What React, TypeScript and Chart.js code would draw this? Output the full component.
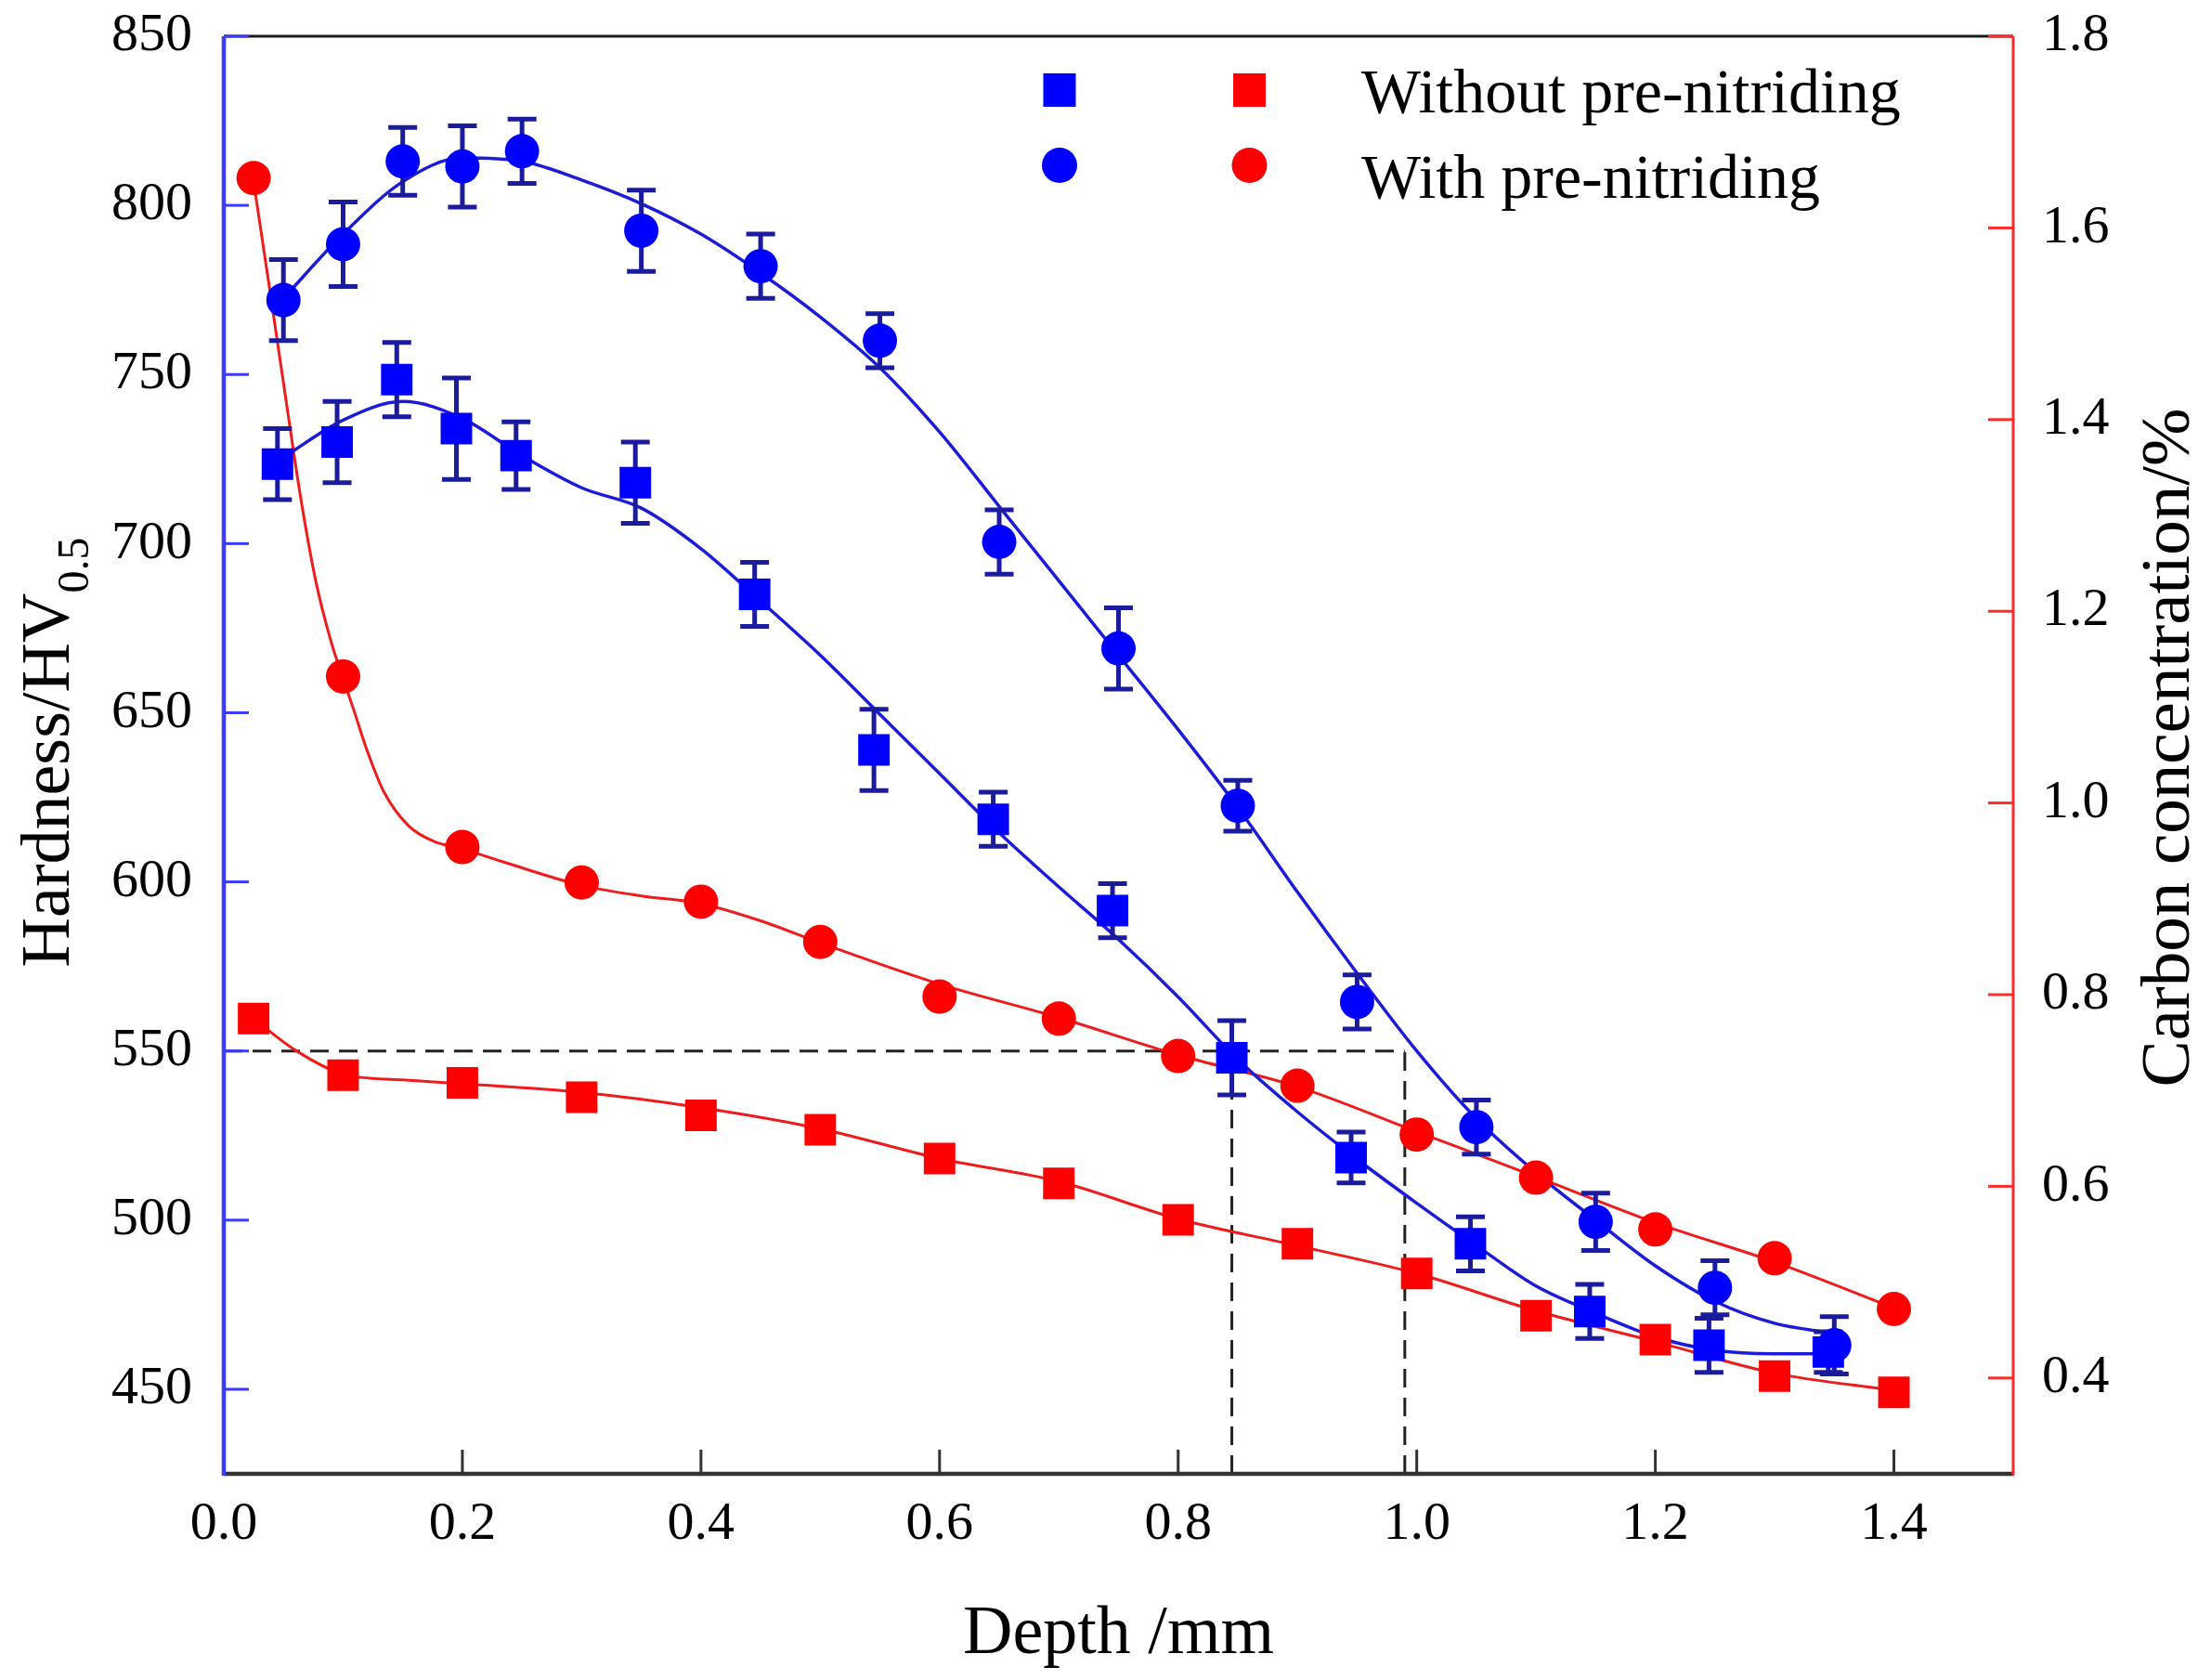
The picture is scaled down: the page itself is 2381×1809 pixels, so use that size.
import { useEffect, useRef } from 'react';
import { Chart, registerables } from 'chart.js';
import type { ChartConfiguration, Plugin } from 'chart.js';

Chart.register(...registerables);

const WIDTH = 2381;
const HEIGHT = 1809;
const SERIF = '"Liberation Serif", "Times New Roman", serif';

const BLUE = '#0000ff';
const BLUE_LINE = '#1c1cd8';
const BLUE_ERR = '#1b1b9e';
const RED = '#ff0000';
const RED_LINE = '#ee1c1c';

// Hardness HV0.5 (left axis), measured points with error bars
const depthHvWithout = [0.045, 0.095, 0.145, 0.195, 0.245, 0.345, 0.445, 0.545, 0.645, 0.745, 0.845, 0.945, 1.045, 1.145, 1.245, 1.345];
const hvWithout = [723.5, 730, 748.5, 734, 726, 718, 685, 639, 618.5, 591.5, 548, 518.5, 493, 473, 463, 461];
const hvWithoutErr = [10.5, 12, 11, 15, 10, 12, 9.5, 12, 8, 8, 11, 7.5, 8, 8, 8, 6];

const depthHvWith = [0.05, 0.1, 0.15, 0.2, 0.25, 0.35, 0.45, 0.55, 0.65, 0.75, 0.85, 0.95, 1.05, 1.15, 1.25, 1.35];
const hvWith = [772, 788.5, 813, 811.5, 816, 792.5, 782, 760, 700.5, 669, 622.5, 564.5, 527.5, 499.5, 480, 463];
const hvWithErr = [12, 12.5, 10, 12, 9.5, 12, 9.5, 8, 9.5, 12, 7.5, 8, 8, 8.5, 8, 8.5];

// Carbon concentration % (right axis)
const depthCarbon = [0.025, 0.1, 0.2, 0.3, 0.4, 0.5, 0.6, 0.7, 0.8, 0.9, 1.0, 1.1, 1.2, 1.3, 1.4];
const carbonWithout = [0.775, 0.716, 0.708, 0.693, 0.674, 0.659, 0.629, 0.603, 0.565, 0.54, 0.509, 0.465, 0.44, 0.402, 0.385];
const carbonWith = [1.652, 1.132, 0.954, 0.917, 0.897, 0.855, 0.798, 0.775, 0.736, 0.705, 0.654, 0.609, 0.555, 0.525, 0.472];

// Fitted curves
const fitHvDepth = [0.05, 0.1, 0.15, 0.2, 0.25, 0.3, 0.35, 0.4, 0.45, 0.5, 0.55, 0.6, 0.65, 0.7, 0.75, 0.8, 0.85, 0.9, 0.95, 1.0, 1.05, 1.1, 1.15, 1.2, 1.25, 1.3, 1.35];
const fitHvWithout = [725.5, 736.5, 742, 737, 726, 716.5, 710.5, 698.5, 683, 667, 649.5, 632, 614.5, 598.5, 583, 566, 547.5, 532, 518, 505, 492.5, 480.5, 472.5, 465.5, 461.5, 460.5, 460.5];
const fitHvWith = [772.5, 791.5, 807, 814, 813, 807.5, 800.5, 791.5, 780, 767, 752, 733, 711, 689, 667, 645, 622, 597, 573, 550, 530, 514, 500, 486.5, 476, 469.5, 466.5];

const fitCarbonWithoutDepth = [0.025, 0.06, 0.1, 0.15, 0.2, 0.3, 0.4, 0.5, 0.6, 0.7, 0.8, 0.9, 1.0, 1.1, 1.2, 1.3, 1.4];
const fitCarbonWithout = [0.775, 0.742, 0.717, 0.711, 0.707, 0.698, 0.682, 0.66, 0.629, 0.605, 0.566, 0.538, 0.509, 0.47, 0.438, 0.405, 0.387];
const fitCarbonWithDepth = [0.025, 0.038, 0.051, 0.064, 0.077, 0.09, 0.1, 0.11, 0.12, 0.134, 0.155, 0.176, 0.2, 0.233, 0.3, 0.35, 0.4, 0.45, 0.5, 0.6, 0.7, 0.8, 0.9, 1.0, 1.1, 1.2, 1.3, 1.4];
const fitCarbonWith = [1.648, 1.54, 1.43, 1.322, 1.232, 1.168, 1.13, 1.093, 1.055, 1.012, 0.976, 0.96, 0.952, 0.939, 0.914, 0.903, 0.895, 0.877, 0.854, 0.811, 0.776, 0.737, 0.704, 0.657, 0.61, 0.562, 0.521, 0.473];

// 550 HV case-depth guide lines
const refHardness = 550;
const refDepths = [0.845, 0.99];

const legendRows = ['Without pre-nitriding', 'With pre-nitriding'];

const toPoints = (xs: number[], ys: number[]) => xs.map((x, i) => ({ x, y: ys[i] }));

const guideLines: Plugin<'scatter'> = {
  id: 'guideLines',
  beforeDatasetsDraw(chart) {
    const { ctx, chartArea } = chart;
    const x = chart.scales.x;
    const y = chart.scales.y;
    const yRef = y.getPixelForValue(refHardness);
    ctx.save();
    ctx.strokeStyle = '#222';
    ctx.lineWidth = 3;
    ctx.setLineDash([20, 11]);
    ctx.beginPath();
    ctx.moveTo(x.getPixelForValue(0), yRef);
    ctx.lineTo(x.getPixelForValue(refDepths[refDepths.length - 1]), yRef);
    refDepths.forEach((d) => {
      const px = x.getPixelForValue(d);
      ctx.moveTo(px, chartArea.bottom);
      ctx.lineTo(px, yRef);
    });
    ctx.stroke();
    ctx.restore();
  },
};

const errorBars: Plugin<'scatter'> = {
  id: 'errorBars',
  beforeDatasetDraw(chart, args) {
    // markers are datasets 0..3, drawn from 3 down to 0; put the bars just under them
    if (args.index !== 3) return;
    const { ctx } = chart;
    const x = chart.scales.x;
    const y = chart.scales.y;
    const cap = 15.5;
    ctx.save();
    ctx.strokeStyle = BLUE_ERR;
    ctx.lineWidth = 5;
    const series: [number[], number[], number[]][] = [
      [depthHvWithout, hvWithout, hvWithoutErr],
      [depthHvWith, hvWith, hvWithErr],
    ];
    series.forEach(([xs, ys, es]) => {
      xs.forEach((d, i) => {
        const px = x.getPixelForValue(d);
        const top = y.getPixelForValue(ys[i] + es[i]);
        const bot = y.getPixelForValue(ys[i] - es[i]);
        ctx.beginPath();
        ctx.moveTo(px, top);
        ctx.lineTo(px, bot);
        ctx.moveTo(px - cap, top);
        ctx.lineTo(px + cap, top);
        ctx.moveTo(px - cap, bot);
        ctx.lineTo(px + cap, bot);
        ctx.stroke();
      });
    });
    ctx.restore();
  },
};

const frame: Plugin<'scatter'> = {
  id: 'frame',
  afterDraw(chart) {
    const { ctx, chartArea: a } = chart;
    const { x, y, y1 } = chart.scales;
    const seg = (x0: number, y0: number, x2: number, y2: number) => {
      ctx.beginPath();
      ctx.moveTo(x0, y0);
      ctx.lineTo(x2, y2);
      ctx.stroke();
    };
    ctx.save();
    ctx.strokeStyle = '#1a1a1a';
    ctx.lineWidth = 3;
    seg(a.left, a.top, a.right, a.top);

    ctx.strokeStyle = '#333';
    ctx.lineWidth = 4.5;
    seg(a.left, a.bottom, a.right, a.bottom);
    ctx.lineWidth = 3;
    x.ticks.forEach((t) => {
      const px = x.getPixelForValue(t.value);
      if (px - a.left < 3) return;
      seg(px, a.bottom, px, a.bottom - 26);
    });

    ctx.strokeStyle = '#3b3bff';
    ctx.lineWidth = 4.5;
    seg(a.left, a.top, a.left, a.bottom + 2);
    ctx.lineWidth = 3;
    y.ticks.forEach((t) => {
      const py = y.getPixelForValue(t.value);
      seg(a.left, py, a.left + 27, py);
    });

    ctx.strokeStyle = '#ff2a2a';
    ctx.lineWidth = 3;
    seg(a.right, a.top, a.right, a.bottom + 2);
    y1.ticks.forEach((t) => {
      const py = y1.getPixelForValue(t.value);
      seg(a.right, py, a.right - 27, py);
    });
    ctx.restore();
  },
};

const labels: Plugin<'scatter'> = {
  id: 'labels',
  afterDraw(chart) {
    const { ctx, chartArea: a } = chart;
    const midX = (a.left + a.right) / 2;
    const midY = (a.top + a.bottom) / 2;
    ctx.save();
    ctx.fillStyle = '#000';
    ctx.textBaseline = 'alphabetic';

    // x title
    ctx.font = `74px ${SERIF}`;
    ctx.textAlign = 'center';
    ctx.fillText('Depth /mm', midX, a.bottom + 193);

    // left title with subscript
    ctx.save();
    ctx.translate(a.left - 167, midY - 3);
    ctx.rotate(-Math.PI / 2);
    ctx.textAlign = 'left';
    ctx.font = `74px ${SERIF}`;
    const main = 'Hardness/HV';
    const mw = ctx.measureText(main).width;
    ctx.font = `48px ${SERIF}`;
    const sub = '0.5';
    const sw = ctx.measureText(sub).width;
    const start = -(mw + sw) / 2;
    ctx.font = `74px ${SERIF}`;
    ctx.fillText(main, start, 0);
    ctx.font = `48px ${SERIF}`;
    ctx.fillText(sub, start + mw, 21);
    ctx.restore();

    // right title
    ctx.save();
    ctx.translate(a.right + 189, midY - 8);
    ctx.rotate(-Math.PI / 2);
    ctx.textAlign = 'center';
    ctx.font = `75px ${SERIF}`;
    ctx.fillText('Carbon concentration/%', 0, 0);
    ctx.restore();

    // legend
    const rowY = [97, 178];
    const colX = [1141, 1345.5];
    const colors = [BLUE, RED];
    rowY.forEach((ry, r) => {
      colX.forEach((cx, c) => {
        ctx.fillStyle = colors[c];
        if (r === 0) {
          ctx.fillRect(cx - 17.5, ry - 18, 35, 36);
        } else {
          ctx.beginPath();
          ctx.arc(cx, ry, 19, 0, Math.PI * 2);
          ctx.fill();
        }
      });
      ctx.fillStyle = '#000';
      ctx.textAlign = 'left';
      ctx.font = `68px ${SERIF}`;
      ctx.fillText(legendRows[r], 1466, ry + 24 + r * 11);
    });
    ctx.restore();
  },
};

const tickFont = { family: SERIF, size: 58 };

const config: ChartConfiguration<'scatter'> = {
  type: 'scatter',
  data: {
    datasets: [
      {
        label: 'Hardness without pre-nitriding',
        data: toPoints(depthHvWithout, hvWithout),
        yAxisID: 'y',
        pointStyle: 'rect',
        pointRadius: 24,
        backgroundColor: BLUE,
        borderWidth: 0,
      },
      {
        label: 'Hardness with pre-nitriding',
        data: toPoints(depthHvWith, hvWith),
        yAxisID: 'y',
        pointStyle: 'circle',
        pointRadius: 18.5,
        backgroundColor: BLUE,
        borderWidth: 0,
      },
      {
        label: 'Carbon without pre-nitriding',
        data: toPoints(depthCarbon, carbonWithout),
        yAxisID: 'y1',
        pointStyle: 'rect',
        pointRadius: 24,
        backgroundColor: RED,
        borderWidth: 0,
      },
      {
        label: 'Carbon with pre-nitriding',
        data: toPoints(depthCarbon, carbonWith),
        yAxisID: 'y1',
        pointStyle: 'circle',
        pointRadius: 18.5,
        backgroundColor: RED,
        borderWidth: 0,
      },
      {
        label: 'Fit hardness without',
        data: toPoints(fitHvDepth, fitHvWithout),
        yAxisID: 'y',
        showLine: true,
        pointRadius: 0,
        borderColor: BLUE_LINE,
        borderWidth: 3.5,
        cubicInterpolationMode: 'monotone',
      },
      {
        label: 'Fit hardness with',
        data: toPoints(fitHvDepth, fitHvWith),
        yAxisID: 'y',
        showLine: true,
        pointRadius: 0,
        borderColor: BLUE_LINE,
        borderWidth: 3.5,
        cubicInterpolationMode: 'monotone',
      },
      {
        label: 'Fit carbon without',
        data: toPoints(fitCarbonWithoutDepth, fitCarbonWithout),
        yAxisID: 'y1',
        showLine: true,
        pointRadius: 0,
        borderColor: RED_LINE,
        borderWidth: 3,
        cubicInterpolationMode: 'monotone',
      },
      {
        label: 'Fit carbon with',
        data: toPoints(fitCarbonWithDepth, fitCarbonWith),
        yAxisID: 'y1',
        showLine: true,
        pointRadius: 0,
        borderColor: RED_LINE,
        borderWidth: 3,
        cubicInterpolationMode: 'monotone',
      },
    ],
  },
  options: {
    responsive: false,
    animation: false,
    devicePixelRatio: 1,
    layout: { padding: { top: 39, left: 0, right: 0, bottom: 0 } },
    plugins: {
      legend: { display: false },
      tooltip: { enabled: false },
    },
    scales: {
      x: {
        type: 'linear',
        min: 0,
        max: 1.5,
        grid: { display: false, drawTicks: false },
        border: { display: false },
        ticks: {
          stepSize: 0.2,
          includeBounds: false,
          padding: 20,
          color: '#000',
          font: tickFont,
          callback: (v) => Number(v).toFixed(1),
        },
        afterFit: (scale) => {
          scale.height = 222;
          scale.paddingLeft = 0;
          scale.paddingRight = 0;
        },
      },
      y: {
        type: 'linear',
        position: 'left',
        min: 425,
        max: 850,
        grid: { display: false, drawTicks: false },
        border: { display: false },
        ticks: {
          stepSize: 50,
          includeBounds: false,
          padding: 34,
          color: '#000',
          font: tickFont,
        },
        afterFit: (scale) => {
          scale.width = 241;
          scale.paddingTop = 0;
          scale.paddingBottom = 0;
        },
      },
      y1: {
        type: 'linear',
        position: 'right',
        min: 0.3,
        max: 1.8,
        grid: { display: false, drawTicks: false },
        border: { display: false },
        ticks: {
          stepSize: 0.2,
          includeBounds: false,
          padding: 31,
          color: '#000',
          font: tickFont,
          callback: (v) => Number(v).toFixed(1),
        },
        afterFit: (scale) => {
          scale.width = 213;
          scale.paddingTop = 0;
          scale.paddingBottom = 0;
        },
      },
    },
  },
  plugins: [guideLines, errorBars, frame, labels],
};

export default function App() {
  const canvasRef = useRef<HTMLCanvasElement>(null);

  useEffect(() => {
    if (!canvasRef.current) return;
    const chart = new Chart(canvasRef.current, config);
    return () => {
      chart.destroy();
    };
  }, []);

  return (
    <div style={{ position: 'absolute', left: 0, top: 0, width: WIDTH, height: HEIGHT, background: '#fff' }}>
      <canvas
        ref={canvasRef}
        width={WIDTH}
        height={HEIGHT}
        style={{ display: 'block', width: WIDTH, height: HEIGHT }}
      />
    </div>
  );
}
